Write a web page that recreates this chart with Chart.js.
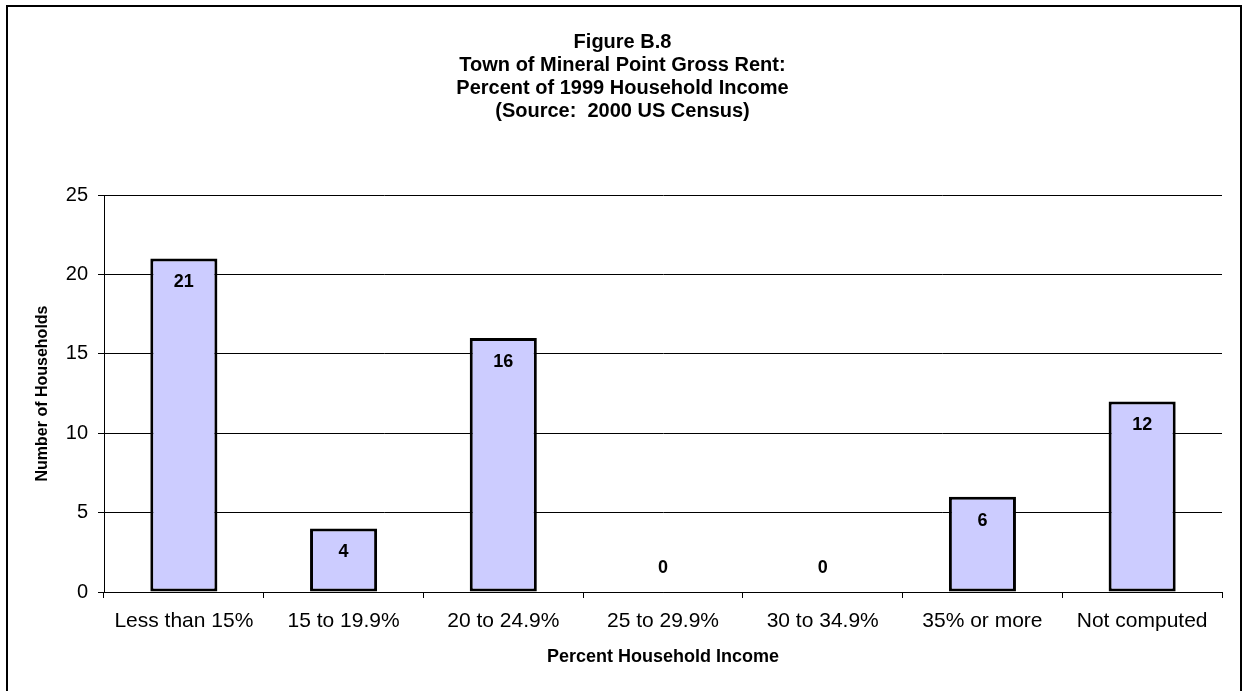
<!DOCTYPE html>
<html>
<head>
<meta charset="utf-8">
<title>Figure B.8</title>
<script src="https://cdn.jsdelivr.net/npm/chart.js@4"></script>
<style>
  html, body { margin: 0; padding: 0; background: #fff; overflow: hidden; }
  #marco {
    position: absolute; left: 6px; top: 5px;
    width: 1232px; height: 800px;
    border: 2px solid #000;
  }
  #grafica { position: absolute; left: 0; top: 0; }
</style>
</head>
<body>
<div id="marco"></div>
<canvas id="grafica" width="1245" height="691"></canvas>
<script>
// ========== DATOS ==========
const titulo = [
  "Figure B.8",
  "Town of Mineral Point Gross Rent:",
  "Percent of 1999 Household Income",
  "(Source:  2000 US Census)"
];
const categorias = [
  "Less than 15%", "15 to 19.9%", "20 to 24.9%", "25 to 29.9%",
  "30 to 34.9%", "35% or more", "Not computed"
];
const hogares = [21, 4, 16, 0, 0, 6, 12];
const yMin = 0, yMax = 25, yPaso = 5;

const FUENTE = '"Liberation Sans", Arial, sans-serif';

// -------------- etiquetas sobre las barras ----------------
const etiquetas = {
  id: "etiquetas",
  afterDatasetsDraw(chart) {
    const ctx = chart.ctx;
    const meta = chart.getDatasetMeta(0);
    ctx.save();
    ctx.font = "bold 18px " + FUENTE;
    ctx.fillStyle = "#000";
    ctx.textAlign = "center";
    ctx.textBaseline = "middle";
    meta.data.forEach((barra, i) => {
      const v = hogares[i];
      const y = v === 0 ? barra.base - 24 : barra.y + 24;
      ctx.fillText(String(v), barra.x, y);
    });
    ctx.restore();
  }
};

// ========== GRAFICA ==========
function graficar() {
  Chart.defaults.font.family = FUENTE;
  Chart.defaults.color = "#000";

  new Chart(document.getElementById("grafica"), {
    type: "bar",
    data: {
      labels: categorias,
      datasets: [{
        data: hogares,
        backgroundColor: "#CCCCFF",
        borderColor: "#000",
        borderWidth: 3,
        borderSkipped: false,
        barPercentage: 0.42,
        categoryPercentage: 1
      }]
    },
    options: {
      responsive: false,
      animation: false,
      devicePixelRatio: 1,
      layout: { padding: { left: 23, right: 23, top: 0, bottom: 0 } },
      plugins: {
        legend: { display: false },
        tooltip: { enabled: false },
        title: {
          display: true,
          text: titulo,
          color: "#000",
          font: { size: 20, weight: "bold", lineHeight: "23px" },
          padding: { top: 31, bottom: 72 }
        }
      },
      scales: {
        x: {
          grid: { drawOnChartArea: false, drawTicks: true, tickLength: 6, color: "#000", offset: true },
          border: { display: true, color: "#000", width: 1 },
          ticks: { font: { size: 21 }, padding: 11, maxRotation: 0, autoSkip: false },
          title: {
            display: true,
            text: "Percent Household Income",
            font: { size: 18, weight: "bold" },
            padding: { top: 0, bottom: 23 }
          },
          afterFit(s) { s.height = 99; }
        },
        y: {
          min: yMin, max: yMax,
          grid: { color: "#000", tickLength: 6, lineWidth: 1 },
          border: { display: true, color: "#000", width: 1 },
          ticks: { stepSize: yPaso, font: { size: 20 }, padding: 10 },
          title: {
            display: true,
            text: "Number of Households",
            font: { size: 16, weight: "bold" },
            padding: { top: 10, bottom: 0 }
          },
          afterFit(s) { s.width = 81; }
        }
      }
    },
    plugins: [etiquetas]
  });
}

window.onload = graficar;
</script>
</body>
</html>
